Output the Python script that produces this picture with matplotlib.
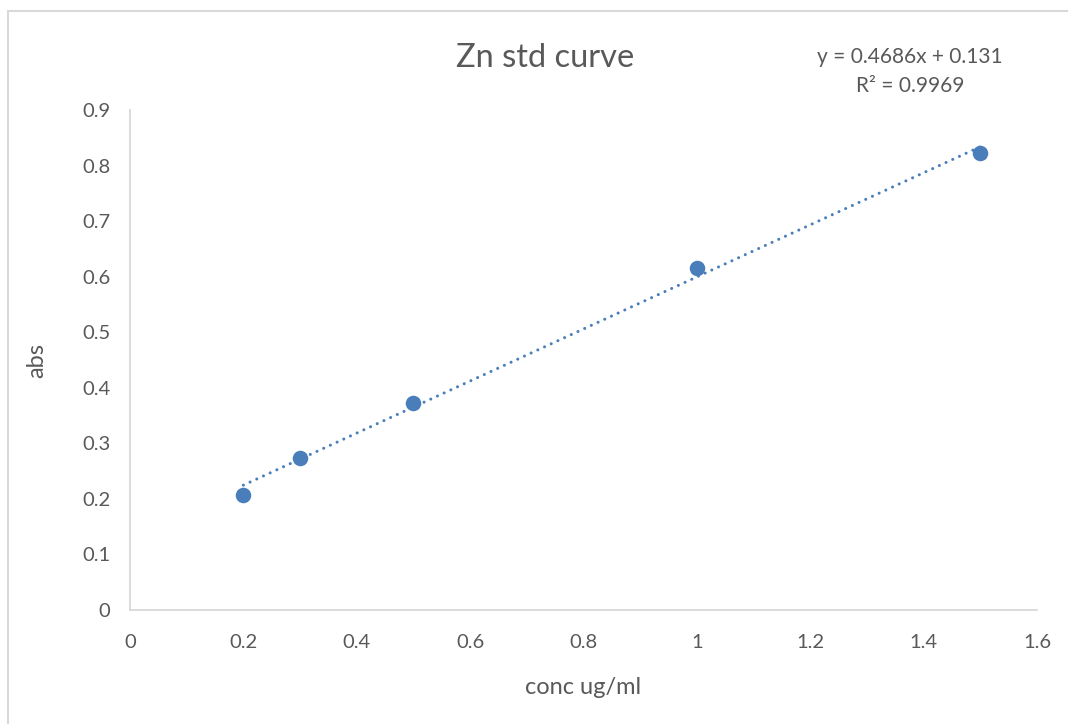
import matplotlib.pyplot as plt
from matplotlib.patches import Rectangle
import numpy as np

plt.rcParams["font.family"] = ["Lato", "DejaVu Sans"]

# standards: concentration (ug/ml) and absorbance
conc = [0.2, 0.3, 0.5, 1.0, 1.5]
absorb = [0.207, 0.274, 0.373, 0.616, 0.823]

# linear trendline as reported
slope = 0.4686
intercept = 0.131
r2 = 0.9969

x_ticks = [0, 0.2, 0.4, 0.6, 0.8, 1.0, 1.2, 1.4, 1.6]
x_labels = ["0", "0.2", "0.4", "0.6", "0.8", "1", "1.2", "1.4", "1.6"]
y_ticks = [0, 0.1, 0.2, 0.3, 0.4, 0.5, 0.6, 0.7, 0.8, 0.9]
y_labels = ["0", "0.1", "0.2", "0.3", "0.4", "0.5", "0.6", "0.7", "0.8", "0.9"]

blue = "#4A7EBB"
grey_txt = "#595959"
grey_line = "#D9D9D9"

fig = plt.figure(figsize=(10.68, 7.24), dpi=100)
# chart area border
fig.patches.append(Rectangle((8/1068, -0.05), 1.1, (724-11)/724 + 0.05,
                             transform=fig.transFigure, fill=False,
                             edgecolor=grey_line, linewidth=1.5))

ax = fig.add_axes([130/1068, 114/724, (1037-130)/1068, (614-114)/724])

xs = np.array([min(conc), max(conc)])
ax.plot(xs, slope*xs + intercept, color=blue, lw=2.2,
        dashes=(0.01, 2.4), dash_capstyle="round", zorder=2)
ax.scatter(conc, absorb, s=125, color=blue, zorder=3, linewidths=0)

ax.set_xlim(0, 1.6)
ax.set_ylim(0, 0.9)
ax.set_xticks(x_ticks)
ax.set_xticklabels(x_labels)
ax.set_yticks(y_ticks)
ax.set_yticklabels(y_labels)
ax.tick_params(length=0, labelsize=14.5, labelcolor=grey_txt)
ax.tick_params(axis="x", pad=17)
ax.tick_params(axis="y", pad=14)

for s in ["top", "right"]:
    ax.spines[s].set_visible(False)
for s in ["left", "bottom"]:
    ax.spines[s].set_color(grey_line)
    ax.spines[s].set_linewidth(1.3)

ax.set_xlabel("conc ug/ml", fontsize=17, color=grey_txt, labelpad=19)
ax.set_ylabel("abs", fontsize=17, color=grey_txt, labelpad=25)

fig.text(545/1068, 1 - 58/724, "Zn std curve", fontsize=23.5, color=grey_txt,
         ha="center", va="center")
fig.text(910/1068, 1 - 57/724, "y = %.4fx + %.3f" % (slope, intercept),
         fontsize=15, color=grey_txt, ha="center", va="center")
fig.text(910/1068, 1 - 86/724, "R² = %.4f" % r2,
         fontsize=15, color=grey_txt, ha="center", va="center")

fig.savefig("out.png", dpi=100)
